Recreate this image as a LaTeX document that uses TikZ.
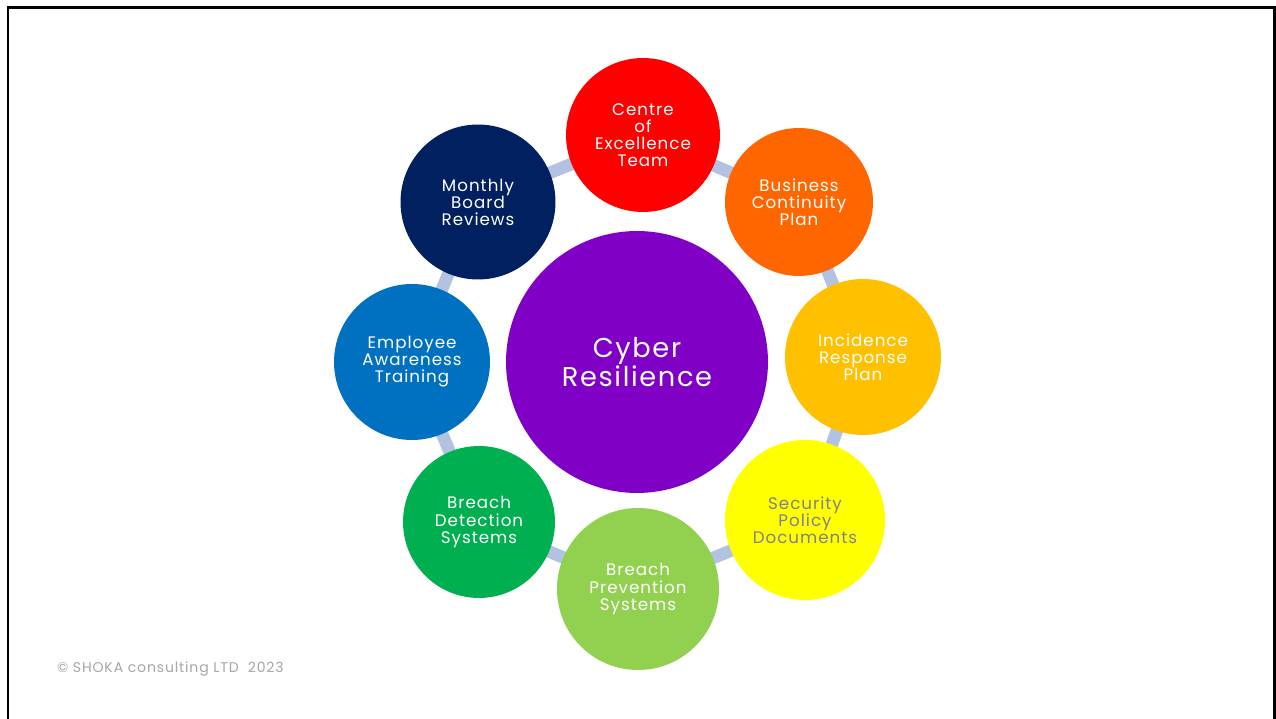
\documentclass[tikz,border=0pt]{standalone}
\usepackage{fontspec}
\setmainfont[LetterSpace=6]{Poppins}
\usetikzlibrary{backgrounds}
\definecolor{cyberpurple}{HTML}{8000C6}
\definecolor{coered}{HTML}{FF0000}
\definecolor{bcporange}{HTML}{FF6600}
\definecolor{irpamber}{HTML}{FFC000}
\definecolor{spdyellow}{HTML}{FFFF00}
\definecolor{spdgray}{HTML}{80808F}
\definecolor{bpsgreen}{HTML}{92D050}
\definecolor{bdsgreen}{HTML}{00B050}
\definecolor{eatblue}{HTML}{0070C0}
\definecolor{mbrnavy}{HTML}{002060}
\definecolor{linkblue}{HTML}{B4C2E2}
\definecolor{copygray}{HTML}{A6A6A6}
\begin{document}
\begin{tikzpicture}[x=0.02cm,y=-0.02cm,
  hub/.style={circle,fill=cyberpurple,text=white,inner sep=0pt,align=center,font=\fontsize{15.5}{16}\selectfont},
  spoke/.style={circle,text=white,inner sep=0pt,align=center,font=\fontsize{9.5}{9.7}\selectfont},
  link/.style={draw=linkblue,line width=0.25cm,shorten <=-0.12cm,shorten >=-0.12cm}]

\useasboundingbox (0,0) rectangle (1276,719);
\clip (0,0) rectangle (1276,719);
\draw [line width=0.06cm] (8,8) rectangle (1274,760);

\node [hub,minimum size=5.24cm] (cyber) at (637,362) {Cyber\\Resilience};
\node [spoke,fill=coered,minimum size=3.08cm] (centre) at (643,135) {Centre\\of\\Excellence\\Team};
\node [spoke,fill=bcporange,minimum size=2.96cm] (business) at (799,202) {Business\\Continuity\\Plan};
\node [spoke,fill=irpamber,minimum size=3.12cm] (incidence) at (863,357) {Incidence\\Response\\Plan};
\node [spoke,fill=spdyellow,text=spdgray,minimum size=3.2cm] (security) at (805,520) {Security\\Policy\\Documents};
\node [spoke,fill=bpsgreen,minimum size=3.24cm] (prevention) at (638,589) {Breach\\Prevention\\Systems};
\node [spoke,fill=bdsgreen,minimum size=3.04cm] (detection) at (479,522) {Breach\\Detection\\Systems};
\node [spoke,fill=eatblue,minimum size=3.12cm] (employee) at (412,362) {Employee\\Awareness\\Training};
\node [spoke,fill=mbrnavy,minimum size=3.1cm] (monthly) at (478,202) {Monthly\\Board\\Reviews};

\node [anchor=west,text=copygray,font=\fontsize{8}{9}\selectfont] (copyright) at (51,669) {\textcopyright{} SHOKA consulting LTD\ \ 2023};

\begin{scope}[on background layer]
\fill [white] (0,0) rectangle (1276,719);
\draw [link] (monthly) -- (centre);
\draw [link] (centre) -- (business);
\draw [link] (business) -- (incidence);
\draw [link] (incidence) -- (security);
\draw [link] (security) -- (prevention);
\draw [link] (prevention) -- (detection);
\draw [link] (detection) -- (employee);
\draw [link] (employee) -- (monthly);
\end{scope}
\end{tikzpicture}
\end{document}
